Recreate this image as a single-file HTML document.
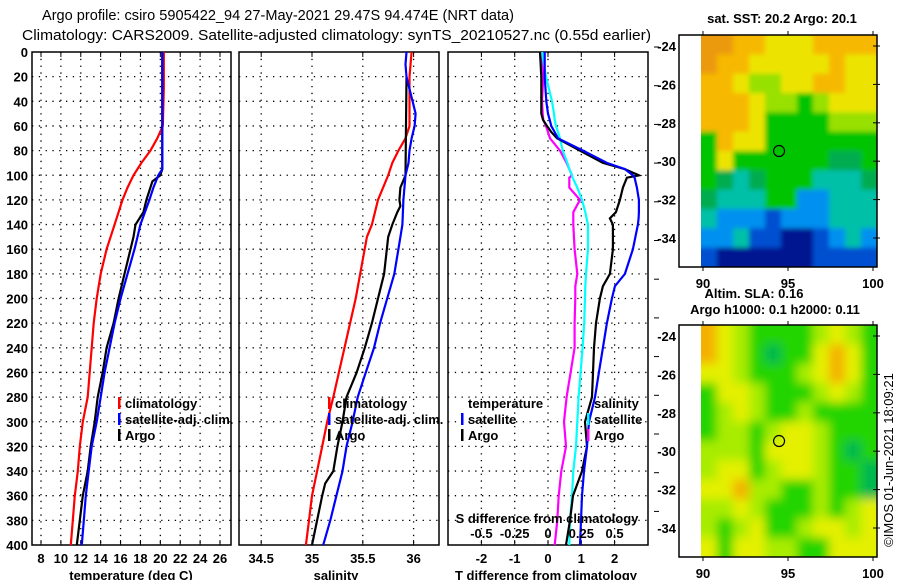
<!DOCTYPE html>
<html><head><meta charset="utf-8"><style>
html,body{margin:0;padding:0;background:#fff;}
svg{display:block;font-family:"Liberation Sans",Arial,sans-serif;}
.b{font-weight:bold;font-size:13px;}
</style></head><body>
<svg id="chart" width="900" height="580" viewBox="0 0 900 580">
<defs>
<filter id="blurA" x="-10%" y="-10%" width="120%" height="120%"><feGaussianBlur stdDeviation="5"/></filter>
<filter id="blurB" x="-10%" y="-10%" width="120%" height="120%"><feGaussianBlur stdDeviation="2.5"/></filter>
<clipPath id="clipSST"><rect x="701" y="35" width="176" height="232"/></clipPath>
<clipPath id="clipSLA"><rect x="701" y="325" width="176" height="232"/></clipPath>
</defs>
</svg>
<script>
// ---------- data ----------
const depthTicks=[0,20,40,60,80,100,120,140,160,180,200,220,240,260,280,300,320,340,360,380,400];
const tTicks=[8,10,12,14,16,18,20,22,24,26];
const sTicks=[34.5,35,35.5,36];
const dTTicks=[-2,-1,0,1,2];
const dSTicks=[-0.5,-0.25,0,0.25,0.5];
const dSTickLabels=["-0.5","-0.25","0","0.25","0.5"];

const tClimDepth=[0,30,60,70,80,90,100,110,120,140,160,180,200,220,240,260,280,300,320,340,360,380,400];
const tClimVal=[20.35,20.35,20.25,19.7,19.0,18.1,17.3,16.7,16.2,15.4,14.6,14.0,13.6,13.3,13.1,12.9,12.7,12.2,11.9,11.7,11.4,11.2,11.0];
const tSatDepth=[0,95,100,110,120,140,150,160,180,200,220,240,260,280,300,320,340,360,380,400];
const tSatVal=[20.2,20.2,19.8,19.3,18.9,18.0,17.7,17.4,16.7,16.0,15.4,14.9,14.4,14.0,13.6,13.1,12.8,12.5,12.3,12.1];
const tArgoDepth=[0,95,100,105,120,130,140,150,160,180,200,220,240,260,280,300,320,340,360,380,400];
const tArgoVal=[20.2,20.2,20.0,19.2,18.6,18.3,17.5,17.3,17.0,16.4,15.8,15.3,14.6,14.2,13.7,13.4,13.0,12.7,12.2,11.9,11.6];

const sClimDepth=[0,20,60,70,80,90,100,120,140,150,200,240,280,300,320,340,360,380,400];
const sClimVal=[35.98,35.96,35.96,35.92,35.85,35.79,35.75,35.65,35.59,35.54,35.43,35.32,35.21,35.15,35.10,35.05,35.00,34.97,34.94];
const sSatDepth=[0,10,20,30,40,50,60,70,80,90,100,120,140,150,160,180,200,220,240,260,280,300,320,340,360,380,400];
const sSatVal=[35.93,35.92,35.93,35.96,35.99,36.02,36.01,35.98,35.96,35.95,35.92,35.90,35.89,35.87,35.85,35.81,35.74,35.67,35.61,35.53,35.45,35.40,35.34,35.30,35.24,35.18,35.11];
const sArgoDepth=[20,100,110,120,125,130,140,150,180,200,220,240,260,280,300,320,340,350,360,380,400];
const sArgoVal=[35.93,35.92,35.87,35.86,35.87,35.84,35.79,35.75,35.71,35.65,35.59,35.52,35.44,35.34,35.30,35.25,35.21,35.13,35.10,35.05,35.00];

const dDepth=[0,20,40,50,55,60,65,70,80,90,95,100,102,110,120,130,135,140,160,180,190,200,220,240,260,280,300,320,340,360,380,400];
const dTArgo=[-0.24,-0.2,-0.2,-0.2,-0.15,-0.03,0.1,0.27,0.96,1.65,2.3,2.73,2.37,2.25,2.16,2.04,1.86,1.95,1.95,1.86,1.65,1.56,1.44,1.38,1.35,1.32,1.11,1.17,1.02,0.75,0.66,0.54];
const dTSat=[-0.1,-0.1,-0.05,0,0.05,0.1,0.2,0.3,1.05,1.77,2.31,2.55,2.6,2.67,2.73,2.73,2.72,2.7,2.55,2.31,2.01,1.92,1.77,1.65,1.53,1.41,1.23,1.17,1.08,1.02,0.99,0.96];
const dSSat=[-0.045,-0.015,0.03,0.045,0.05,0.06,0.075,0.09,0.11,0.145,0.16,0.18,0.185,0.22,0.255,0.28,0.29,0.3,0.3,0.285,0.28,0.278,0.272,0.26,0.245,0.23,0.22,0.21,0.19,0.18,0.165,0.16];
const dSArgo=[-0.045,-0.035,-0.045,-0.04,-0.035,-0.015,0.0,0.015,0.09,0.14,0.16,0.18,0.16,0.16,0.24,0.19,0.19,0.19,0.2,0.22,0.205,0.205,0.2,0.2,0.17,0.14,0.12,0.135,0.1,0.08,0.07,0.05];

const sstRows=["OOooYYYoooo","OooYYYYYoYY","ooYLLYYooYY","oooYLLGLYYY","oooYGGGGLLL","GoYYGGGGGGG","GYGGGGGGggG","GgTgGGGTTTg","gTTTGGBBTTT","TBBBbBBBTTT","BBTbbDDbBTB","bDDDDDDbbbb"];
const slaRows=["OYLGGGGLYLG","OYLGgGGYOYG","YYLGGGLYOYG","GYYLGGGLYLG","GLYLGGLGGGG","GLLGLYYLGGG","LLLGYYYLGgG","LYYGLYYLGGg","YYOLLGGLGGg","LLYLGGGLGLY","LGLYGGLYYLY","YGYYLLGGYYY"];
const sstColors={O:"#ec9a10",o:"#f6b800",Y:"#ece400",L:"#98e000",G:"#00c400",g:"#00ac50",T:"#00c0a8",B:"#0090f0",b:"#0050d0",D:"#001490"};
const slaColors={O:"#f4b000",Y:"#e4f000",L:"#a8ec00",G:"#20d400",g:"#00b850"};

// ---------- helpers ----------
const NS="http://www.w3.org/2000/svg";
const svg=document.getElementById('chart');
function mk(tag,attrs,parent){const e=document.createElementNS(NS,tag);for(const k in attrs)e.setAttribute(k,attrs[k]);(parent||svg).appendChild(e);return e;}
function txt(s,x,y,cls,anchor,parent,extra){const e=mk('text',Object.assign({x:x,y:y,'text-anchor':anchor||'start'},extra||{}),parent);if(cls)e.setAttribute('class',cls);e.textContent=s;return e;}

const Y0=52,Y1=545;
const yD=d=>Y0+d*(Y1-Y0)/400;
const P1={l:32,r:231},P2={l:239,r:439},P3={l:448,r:648};
const xT=v=>41+(v-8)*(179/18);
const xS=v=>312+(v-35)*101.6;
const xDT=v=>548+v*33.3;
const xDS=v=>548+v*133.2;

function panel(P,name,xTicks,xf,xLabels){
  const g=mk('g',{});
  
  
  depthTicks.forEach(d=>{ if(d>0&&d<400) mk('line',{x1:P.l,x2:P.r,y1:yD(d),y2:yD(d),stroke:'#000','stroke-width':1.3,'stroke-dasharray':'1.3 5.5'},g);});
  xTicks.forEach((v,i)=>{const x=xf(v);mk('line',{x1:x,x2:x,y1:Y0,y2:Y1,stroke:'#000','stroke-width':1.3,'stroke-dasharray':'1.3 5.5'},g);
    mk('line',{x1:x,x2:x,y1:Y1,y2:Y1-5,stroke:'#000'},g);mk('line',{x1:x,x2:x,y1:Y0,y2:Y0+5,stroke:'#000'},g);
    if(xLabels){const t=txt(xLabels[i],x,563,'b','middle',g);}});
  mk('rect',{x:P.l,y:Y0,width:P.r-P.l,height:Y1-Y0,fill:'none',stroke:'#000','stroke-width':1.5},g);
  return g;
}
function line(ds,vs,xf,color,name,parent){
  const pts=ds.map((d,i)=>xf(vs[i]).toFixed(1)+','+yD(d).toFixed(1)).join(' ');
  const p=mk('polyline',{points:pts,fill:'none',stroke:color,'stroke-width':2.2},parent);
  
  
  return p;
}

const t1=txt('Argo profile: csiro 5905422_94 27-May-2021 29.47S 94.474E (NRT data)',42,20,null,'start',svg,{'font-size':'15','textLength':'472','lengthAdjust':'spacingAndGlyphs'});

const t2=txt('Climatology: CARS2009. Satellite-adjusted climatology: synTS_20210527.nc (0.55d earlier)',22,40,null,'start',svg,{'font-size':'15','textLength':'629','lengthAdjust':'spacingAndGlyphs'});


depthTicks.forEach(d=>{const t=txt(String(d),28,yD(d)+5,'b','end');});

const g1=panel(P1,'temperature-panel',tTicks,xT,tTicks.map(String));
line(tClimDepth,tClimVal,xT,'#f00','temp-climatology-line',g1);
line(tArgoDepth,tArgoVal,xT,'#000','temp-argo-line',g1);
line(tSatDepth,tSatVal,xT,'#00f','temp-satellite-line',g1);
const a1=txt('temperature (deg C)',131,580,'b','middle');

const g2=panel(P2,'salinity-panel',sTicks,xS,["34.5","35","35.5","36"]);
line(sClimDepth,sClimVal,xS,'#f00','sal-climatology-line',g2);
line(sArgoDepth,sArgoVal,xS,'#000','sal-argo-line',g2);
line(sSatDepth,sSatVal,xS,'#00f','sal-satellite-line',g2);
const a2=txt('salinity',336,580,'b','middle');

const g3=panel(P3,'difference-panel',dTTicks,xDT,dTTicks.map(String));
line(dDepth,dSArgo,xDS,'#f0f','sal-diff-argo-line',g3);
line(dDepth,dSSat,xDS,'#0ff','sal-diff-satellite-line',g3);
line(dDepth,dTArgo,xDT,'#000','temp-diff-argo-line',g3);
line(dDepth,dTSat,xDT,'#00f','temp-diff-satellite-line',g3);
const st=txt('S difference from climatology',547,523,'b','middle',g3);
dSTicks.forEach((v,i)=>{const t=txt(dSTickLabels[i],xDS(v),538,'b','middle',g3);});
const a3=txt('T difference from climatology',546,580,'b','middle');
for(let y=47;y<540;y+=38.7){mk('line',{x1:654,x2:659,y1:y,y2:y,stroke:'#000'});}

function legEntry(x,y,color,label,name){
  const g=mk('g',{});
  if(color)mk('rect',{x:x,y:y-11,width:2.5,height:12,fill:color},g);
  txt(label,x+7,y,'b','start',g);
}
legEntry(118,408,'#f00','climatology','legend-climatology');
legEntry(118,424,'#00f','satellite-adj. clim.','legend-satellite-adj');
legEntry(118,440,'#000','Argo','legend-argo');
legEntry(328,408,'#f00','climatology','legend2-climatology');
legEntry(328,424,'#00f','satellite-adj. clim.','legend2-satellite-adj');
legEntry(328,440,'#000','Argo','legend2-argo');
legEntry(461,408,null,'temperature','legend-temperature-header');
legEntry(461,424,'#00f','satellite','legend-temp-satellite');
legEntry(461,440,'#000','Argo','legend-temp-argo');
legEntry(587,408,null,'salinity','legend-salinity-header');
legEntry(587,424,'#0ff','satellite','legend-sal-satellite');
legEntry(587,440,'#f0f','Argo','legend-sal-argo');

function map(y0,rows,colors,name,labelY,clip,filt){
  const g=mk('g',{});
  const L=679,R=877,T=y0,B=y0+232,ml=701;
  const cw=(R-ml)/11,ch=(B-T)/12;
  const cg=mk('g',{'clip-path':'url(#'+clip+')'},g);
  const fg=mk('g',{filter:'url(#'+filt+')'},cg);
  rows.forEach((r,i)=>{for(let j=0;j<r.length;j++){
    const x0=j==0?ml-12:ml+j*cw, y0c=i==0?T-12:T+i*ch;
    const w=(j==r.length-1?cw+12:cw+0.6)+(ml+j*cw-x0), h=(i==rows.length-1?ch+12:ch+0.6)+(T+i*ch-y0c);
    mk('rect',{x:x0,y:y0c,width:w,height:h,fill:colors[r[j]]},fg);}});
  mk('rect',{x:L,y:T,width:R-L,height:B-T,fill:'none',stroke:'#000','stroke-width':1.5},g);
  const lx=v=>703+(v-90)*17, ly=v=>T+11+(-v-24)*19.2;
  [90,95,100].forEach(v=>{mk('line',{x1:lx(v),x2:lx(v),y1:T,y2:T-4,stroke:'#000'},g);mk('line',{x1:lx(v),x2:lx(v),y1:B,y2:B+4,stroke:'#000'},g);
    txt(String(v),lx(v),labelY,'b','middle',g);});
  [-24,-26,-28,-30,-32,-34].forEach(v=>{mk('line',{x1:R,x2:R-4,y1:ly(v),y2:ly(v),stroke:'#000'},g);mk('line',{x1:R,x2:R+3,y1:ly(v),y2:ly(v),stroke:'#000'},g);
    txt(String(v),676,ly(v)+5,'b','end',g);});
  const c=mk('circle',{cx:lx(94.474),cy:ly(-29.47),r:5.5,fill:'none',stroke:'#000','stroke-width':1.2},g);
  
  return g;
}
map(35,sstRows,sstColors,'sst-map',288,'clipSST','blurB');
map(325,slaRows,slaColors,'sla-map',578,'clipSLA','blurA');
const m1=txt('sat. SST: 20.2 Argo: 20.1',782,23,'b','middle');
const m2=txt('Altim. SLA: 0.16',754,298,'b','middle');
const m3=txt('Argo h1000: 0.1 h2000: 0.11',775,314,'b','middle');
const cp=txt('©IMOS 01-Jun-2021 18:09:21',0,0,null,'middle',svg,{'font-size':'13',transform:'translate(893,460) rotate(-90)'});

</script>
</body></html>
